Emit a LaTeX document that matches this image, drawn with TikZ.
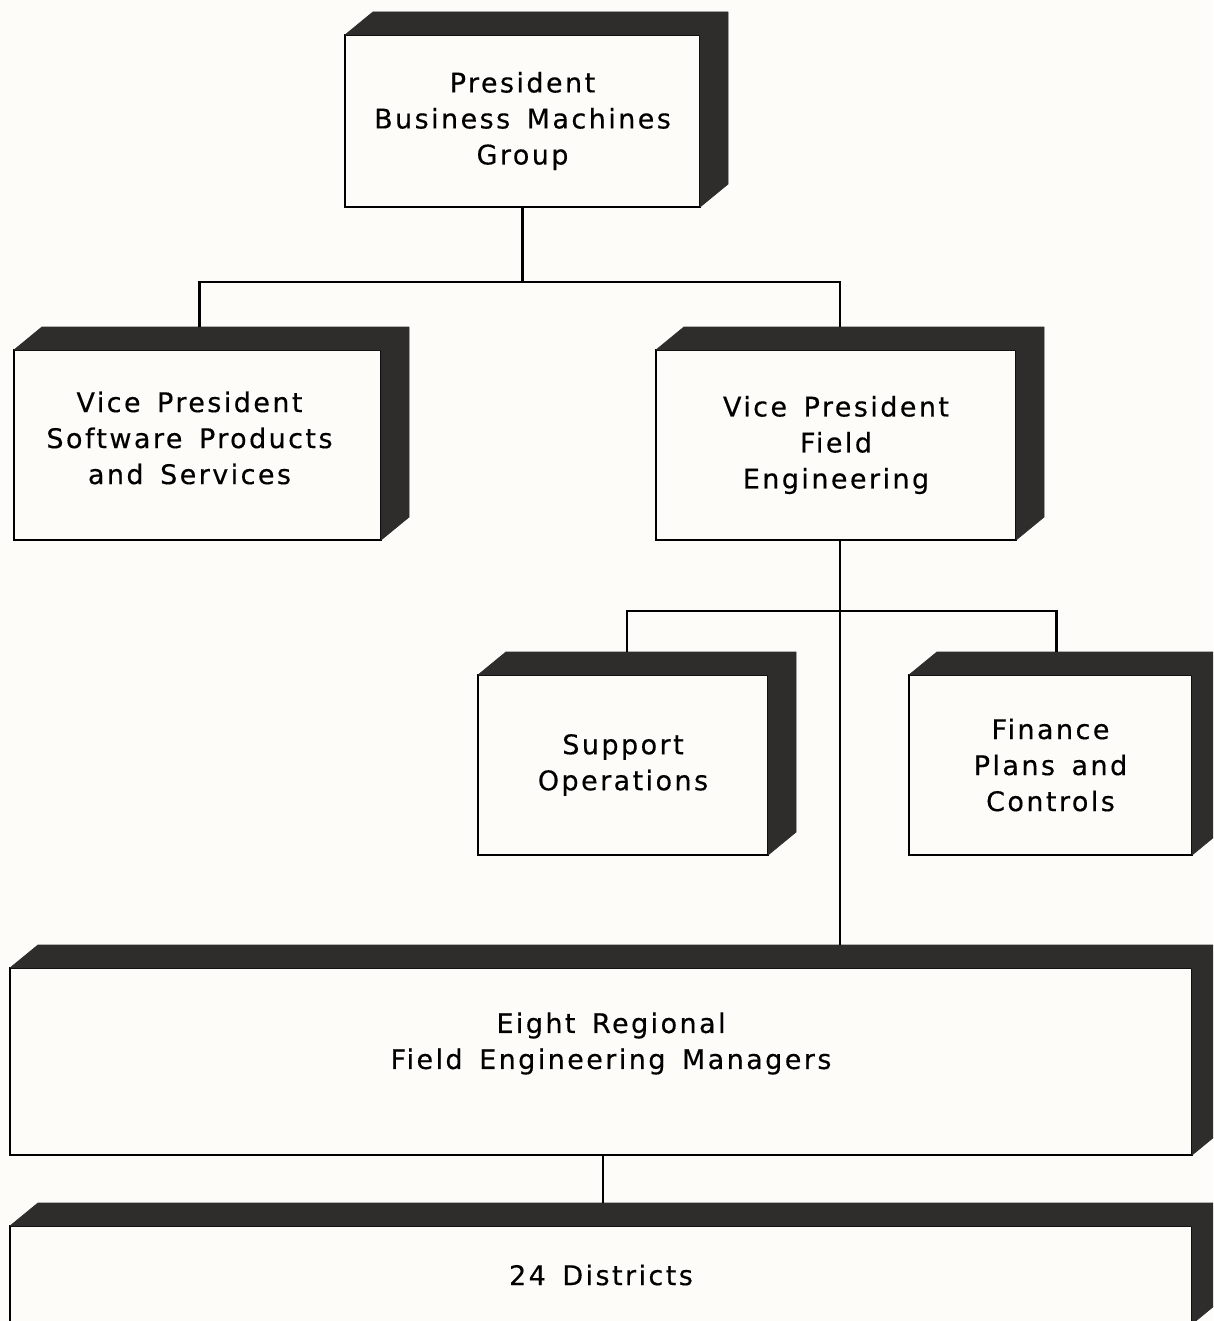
\documentclass[tikz,border=0pt]{standalone}
\usepackage{fontspec}
\setmainfont{DejaVu Sans}[LetterSpace=9, WordSpace=1.5, FakeBold=0.4]
\usetikzlibrary{calc}

\definecolor{paper}{HTML}{FDFCF9}
\definecolor{bevel}{HTML}{2F2C2C}

\tikzset{
  orgtext/.style={align=center, font=\fontsize{27}{36}\selectfont, text=black},
  orgbox/.style={draw=black, line width=2.8pt, fill=paper, inner sep=0pt,
    outer sep=0pt, orgtext},
  conn/.style={draw=black, line width=2.2pt},
}

% dark top and right faces of a raised box
\newcommand\raisedface[1]{%
  \filldraw[bevel, line width=0.8pt, line join=round]
    (#1.north west) -- ++(28pt,23pt)
    -- ($(#1.north east)+(28pt,23pt)$)
    -- ($(#1.south east)+(28pt,23pt)$)
    -- (#1.south east) -- (#1.north east) -- cycle;}

\begin{document}
\begin{tikzpicture}[x=1pt, y=-1pt]
  \useasboundingbox (0,0) rectangle (1213,1321);
  \clip (0,0) rectangle (1213,1321);
  \fill[paper] (0,0) rectangle (1213,1321);

  \node[orgbox, minimum width=355pt, minimum height=172pt] (pres) at (522.5,121)
    {President\\Business Machines\\Group};
  \node[orgbox, minimum width=367pt, minimum height=190pt,
    label={[name=vpsw-text, orgtext, xshift=-8pt, yshift=7pt]center:Vice President\\Software Products\\and Services}]
    (vpsw) at (197.5,445) {};
  \node[orgbox, minimum width=360pt, minimum height=190pt] (vpfe) at (836,445)
    {Vice President\\Field\\Engineering};
  \node[orgbox, minimum width=290pt, minimum height=180pt] (supp) at (623,765)
    {Support\\Operations};
  \node[orgbox, minimum width=283pt, minimum height=180pt] (fin) at (1050.5,765)
    {Finance\\Plans and\\Controls};
  \node[orgbox, minimum width=1182pt, minimum height=187pt,
    label={[name=regional-text, orgtext, xshift=10pt, yshift=18pt]center:Eight Regional\\Field Engineering Managers}]
    (regional) at (601,1061.5) {};
  \node[orgbox, minimum width=1182pt, minimum height=98pt] (dist) at (601,1275)
    {24 Districts};

  \foreach \b in {pres,vpsw,vpfe,supp,fin,regional,dist} {\raisedface{\b}}

  % connectors
  \draw[conn] (pres.south) -- ++(0,75);
  \draw[conn] ($(vpsw.north)+(2pt,23pt)$) -- ++(0,-45) -| ($(vpfe.north)+(4pt,23pt)$);
  \draw[conn] (vpfe.south) ++(4pt,0) -- ($(vpfe.south |- regional.north)+(4pt,23pt)$);
  \draw[conn] ($(supp.north)+(4pt,23pt)$) -- ++(0,-41) -| ($(fin.north)+(6pt,23pt)$);
  \draw[conn] (regional.south) ++(2pt,0) -- ($(dist.north)+(2pt,23pt)$);
\end{tikzpicture}
\end{document}
